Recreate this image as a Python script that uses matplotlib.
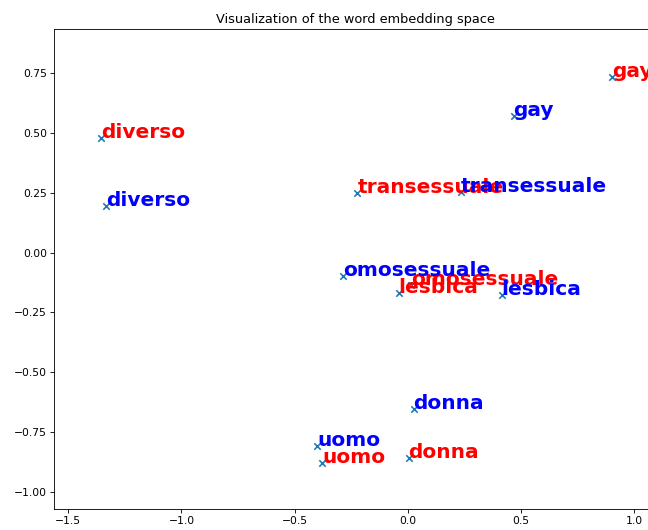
import matplotlib
matplotlib.use("Agg")
import matplotlib.pyplot as plt

# 2D-Koordinaten der Wortvektoren (zwei Modelle: rot / blau)
words = ["uomo", "donna", "gay", "lesbica", "omosessuale", "transessuale", "diverso"]

red_x = [-0.379, 0.004, 0.904, -0.040, 0.015, -0.222, -1.354]
red_y = [-0.878, -0.857, 0.735, -0.168, -0.135, 0.248, 0.479]

blue_x = [-0.401, 0.026, 0.468, 0.415, -0.287, 0.234, -1.332]
blue_y = [-0.807, -0.655, 0.571, -0.176, -0.097, 0.252, 0.193]

DPI = 77
W, H = 648, 530
fig = plt.figure(figsize=(W / DPI, H / DPI), dpi=DPI)
left, right, top, bottom = 54.3, 655.7, 29.3, 509.0
ax = fig.add_axes([left / W, 1 - bottom / H, (right - left) / W, (bottom - top) / H])

ax.scatter(red_x, red_y, marker="x")
for w, x, y in zip(words, red_x, red_y):
    ax.text(x, y, w, color="red", fontsize=18.8, fontweight="bold")

ax.scatter(blue_x, blue_y, marker="x", color="C0")
for w, x, y in zip(words, blue_x, blue_y):
    ax.text(x, y, w, color="blue", fontsize=18.8, fontweight="bold")

ax.set_xlim(-1.562, 1.096)
ax.set_ylim(-1.072, 0.934)
ax.set_title("Visualization of the word embedding space")

fig.savefig("out.png", dpi=DPI)
plt.close(fig)
